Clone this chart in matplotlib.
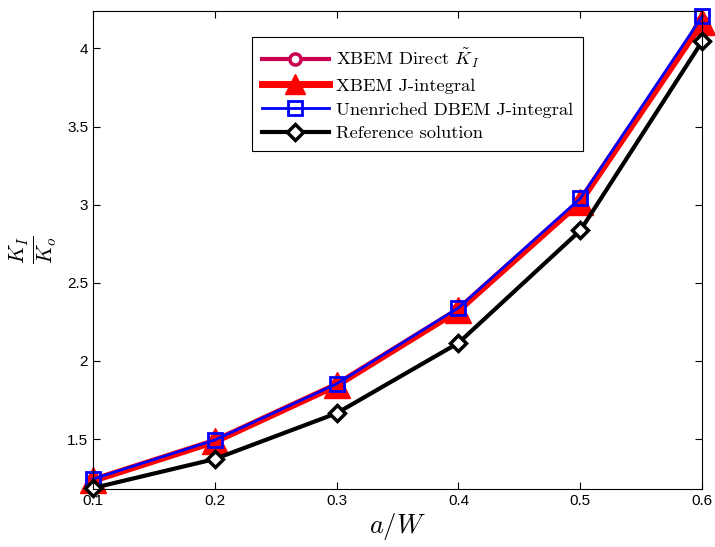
import numpy as np
import matplotlib.pyplot as plt

plt.rcParams['mathtext.fontset'] = 'cm'

# --- data ---
a_w = [0.1, 0.2, 0.3, 0.4, 0.5, 0.6]
xbem_direct = [1.235, 1.485, 1.845, 2.325, 3.02, 4.17]
xbem_jint = [1.235, 1.485, 1.845, 2.325, 3.02, 4.17]
dbem_jint = [1.244, 1.494, 1.853, 2.34, 3.04, 4.205]
reference = [1.186, 1.372, 1.665, 2.115, 2.835, 4.045]

xticks = [0.1, 0.2, 0.3, 0.4, 0.5, 0.6]
yticks = [1.5, 2, 2.5, 3, 3.5, 4]

fig = plt.figure(figsize=(7.15, 5.47), dpi=100)
ax = fig.add_axes([0.130, 0.106, 0.852, 0.874])

ax.plot(a_w, xbem_direct, color='#c8004f', lw=3, marker='o', ms=8,
        mfc='white', mec='#c8004f', mew=2.5, clip_on=False,
        label=r'XBEM Direct $\tilde{K}_I$')
ax.plot(a_w, xbem_jint, color='red', lw=5, marker='^', ms=19,
        mfc='red', mec='red', mew=1, clip_on=False,
        label='XBEM J-integral')
ax.plot(a_w, dbem_jint, color='blue', lw=2, marker='s', ms=10,
        mfc='none', mec='blue', mew=2, clip_on=False,
        label='Unenriched DBEM J-integral')
ax.plot(a_w, reference, color='black', lw=3, marker='D', ms=8,
        mfc='white', mec='black', mew=2.5, clip_on=False,
        label='Reference solution')

ax.set_xlim(0.1, 0.6)
ax.set_ylim(1.18, 4.24)
ax.set_xticks(xticks)
ax.set_xticklabels([f'{v:g}' for v in xticks])
ax.set_yticks(yticks)
ax.set_yticklabels([f'{v:g}' for v in yticks])
ax.tick_params(direction='in', top=True, right=True, labelsize=11, length=5)
for lab in ax.get_xticklabels() + ax.get_yticklabels():
    lab.set_fontfamily('Liberation Sans')

ax.set_xlabel(r'$a/W$', fontsize=19, labelpad=2)
ax.set_ylabel(r'$\frac{K_I}{K_o}$', fontsize=22, labelpad=6)

leg = ax.legend(loc='upper left', bbox_to_anchor=(0.261, 0.946),
                prop={'family': 'cmr10', 'size': 13.3}, handlelength=3.6,
                fancybox=False, edgecolor='black', framealpha=1,
                borderpad=0.55, labelspacing=0.42, handletextpad=0.4,
                borderaxespad=0)
leg.get_frame().set_linewidth(0.8)
for h in leg.legend_handles:
    if h.get_marker() == '^':
        h.set_markersize(14)

fig.savefig('out.png', dpi=100)
